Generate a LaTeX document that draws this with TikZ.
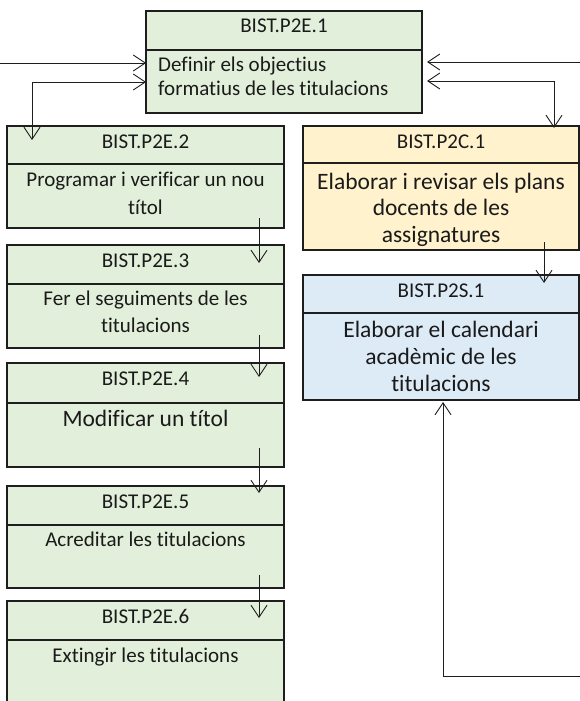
\documentclass[tikz,border=0pt]{standalone}
\usepackage{fontspec}
\setmainfont{Carlito}[Ligatures={NoCommon}]
\usetikzlibrary{arrows.meta}
\definecolor{eg}{HTML}{E2EFDA}
\definecolor{cy}{HTML}{FFF2CC}
\definecolor{sb}{HTML}{DDEBF7}
\definecolor{ln}{HTML}{1E1E1E}
\definecolor{tx}{HTML}{1A1A1A}
\begin{document}
\begin{tikzpicture}[x=1pt,y=-1pt,
  >={Straight Barb[length=12pt,width=16pt]},
  pbox/.style={draw=ln, line width=2.4pt, rectangle, inner sep=0pt, outer sep=0pt, anchor=north west},
  hdr/.style={font=\fontsize{21}{25}\selectfont, text=tx, inner sep=0pt, anchor=base},
  bodyn/.style={font=\fontsize{21}{27}\selectfont, text=tx, inner sep=0pt, anchor=base},
  bodyl/.style={font=\fontsize{23.5}{26.8}\selectfont, text=tx, inner sep=0pt, anchor=base},
  conn/.style={draw=ln, line width=0.9pt},
  divl/.style={draw=ln, line width=2.2pt}]
\useasboundingbox (0,0) rectangle (580,701);
\clip (0,0) rectangle (580,701);
\fill[white] (0,0) rectangle (580,701);

% boxes
\node[pbox, fill=eg, minimum width=276pt, minimum height=102pt] (e1) at (146,11) {};
\node[pbox, fill=eg, minimum width=277pt, minimum height=102pt] (e2) at (7,126) {};
\node[pbox, fill=eg, minimum width=277pt, minimum height=103pt] (e3) at (7,245) {};
\node[pbox, fill=eg, minimum width=277pt, minimum height=104pt] (e4) at (7,363) {};
\node[pbox, fill=eg, minimum width=277pt, minimum height=102pt] (e5) at (7,486) {};
\node[pbox, fill=eg, minimum width=277pt, minimum height=130pt] (e6) at (7,601) {};
\node[pbox, fill=cy, minimum width=276pt, minimum height=124pt] (c1) at (303,126) {};
\node[pbox, fill=sb, minimum width=276pt, minimum height=125pt] (s1) at (303,275) {};

% header dividers
\draw[divl] (e1.west |- 0,50) -- (e1.east |- 0,50);
\draw[divl] (e2.west |- 0,164) -- (e2.east |- 0,164);
\draw[divl] (e3.west |- 0,284) -- (e3.east |- 0,284);
\draw[divl] (e4.west |- 0,403) -- (e4.east |- 0,403);
\draw[divl] (e5.west |- 0,525) -- (e5.east |- 0,525);
\draw[divl] (e6.west |- 0,640) -- (e6.east |- 0,640);
\draw[divl] (c1.west |- 0,163) -- (c1.east |- 0,163);
\draw[divl] (s1.west |- 0,313) -- (s1.east |- 0,313);

% headers
\node[hdr] (e1h) at (e1.north |- 0,33) {BIST.P2E.1};
\node[hdr] (e2h) at (e2.north |- 0,148) {BIST.P2E.2};
\node[hdr] (e3h) at (e3.north |- 0,267) {BIST.P2E.3};
\node[hdr] (e4h) at (e4.north |- 0,385) {BIST.P2E.4};
\node[hdr] (e5h) at (e5.north |- 0,508) {BIST.P2E.5};
\node[hdr] (e6h) at (e6.north |- 0,623) {BIST.P2E.6};
\node[hdr] (c1h) at (c1.north |- 0,148) {BIST.P2C.1};
\node[hdr] (s1h) at (s1.north |- 0,297) {BIST.P2S.1};

% bodies
\node[bodyn, anchor=base west, font=\fontsize{21}{24}\selectfont] (e1b) at (158,71)
  {\begin{tabular}[t]{@{}l@{}}Definir els objectius\\formatius de les titulacions\end{tabular}};
\node[bodyn, font=\fontsize{21}{28}\selectfont] (e2b) at (e2.north |- 0,186)
  {\begin{tabular}[t]{@{}c@{}}Programar i verificar un nou\\títol\end{tabular}};
\node[bodyn] (e3b) at (e3.north |- 0,305)
  {\begin{tabular}[t]{@{}c@{}}Fer el seguiments de les\\titulacions\end{tabular}};
\node[bodyl] (e4b) at (e4.north |- 0,426) {Modificar un títol};
\node[bodyn] (e5b) at (e5.north |- 0,546) {Acreditar les titulacions};
\node[bodyn] (e6b) at (e6.north |- 0,662) {Extingir les titulacions};
\node[bodyl, font=\fontsize{23.5}{26.5}\selectfont] (c1b) at (c1.north |- 0,189)
  {\begin{tabular}[t]{@{}c@{}}Elaborar i revisar els plans\\docents de les\\assignatures\end{tabular}};
\node[bodyl, font=\fontsize{23.5}{27}\selectfont] (s1b) at (s1.north |- 0,337)
  {\begin{tabular}[t]{@{}c@{}}Elaborar el calendari\\acadèmic de les\\titulacions\end{tabular}};

% connectors
\coordinate (L1) at (0,63);
\coordinate (R1) at (580,62);
\coordinate (B1) at (580,676);
\draw[conn,->] (L1) -- (L1 -| e1.west);
\draw[conn,<->] (e1.west |- 0,82) -| ([xshift=25pt,yshift=-14pt]e2.north west);
\draw[conn,->] (R1) -- ([xshift=5pt]R1 -| e1.east);
\draw[conn,<->] ([xshift=5pt]e1.east |- 0,81) -| ([xshift=-25pt,yshift=-2pt]c1.north east);
\draw[conn,->] ([xshift=113.5pt,yshift=10pt]e2.south) -- ([xshift=113.5pt,yshift=-18pt]e3.north);
\draw[conn,->] ([xshift=113.5pt,yshift=13pt]e3.south) -- ([xshift=113.5pt,yshift=-14pt]e4.north);
\draw[conn,->] ([xshift=113.5pt,yshift=19pt]e4.south) -- ([xshift=113.5pt,yshift=-7pt]e5.north);
\draw[conn,->] ([xshift=113.5pt,yshift=13pt]e5.south) -- ([xshift=113.5pt,yshift=-17pt]e6.north);
\draw[conn,->] ([xshift=103pt,yshift=8pt]c1.south) -- ([xshift=103pt,yshift=-8pt]s1.north);
\draw[conn,->] (B1) -| ([xshift=2pt,yshift=-2pt]s1.south);
\end{tikzpicture}
\end{document}
